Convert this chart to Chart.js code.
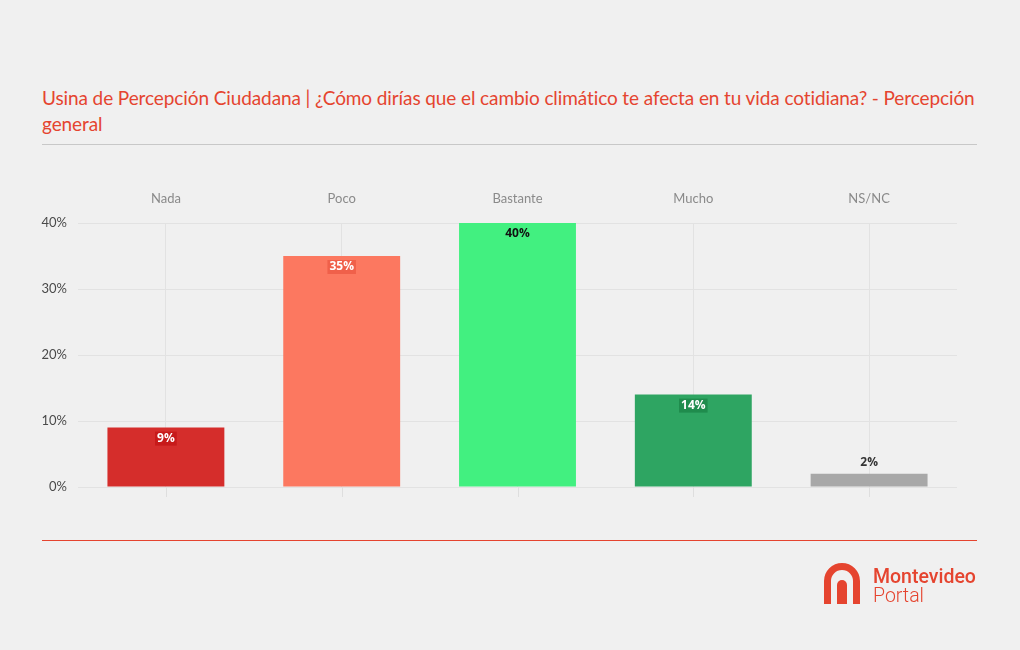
<!DOCTYPE html>
<html>
<head>
<meta charset="utf-8">
<script src="https://cdn.jsdelivr.net/npm/chart.js@4"></script>
<style>
  html, body { margin: 0; padding: 0; background: #f0f0f0; }
  #wrap { position: relative; width: 1020px; height: 650px; overflow: hidden; }
  #chart { position: absolute; left: 0; top: 0; }
  .title { position: absolute; left: 42px; top: 85px; width: 950px; font-family: Lato, sans-serif;
           font-size: 19px; letter-spacing: -0.1px; line-height: 26px; color: #e5442f; }
  .rule { position: absolute; left: 42px; width: 935px; height: 1px; }
  .logo { position: absolute; left: 821px; top: 561px; }
  .logo-text { position: absolute; left: 873px; top: 567px; font-family: Roboto, sans-serif; color: #e5442f;
               font-size: 19.5px; line-height: 19px; }
</style>
</head>
<body>
<div id="wrap">
  <div class="title">Usina de Percepción Ciudadana | ¿Cómo dirías que el cambio climático te afecta en tu vida cotidiana? - Percepción general</div>
  <div class="rule" style="top:144px;background:#c8c8c8"></div>
  <div class="rule" style="top:540px;background:#e5442f"></div>
  <canvas id="chart" width="1020" height="650"></canvas>
  <svg class="logo" width="42" height="44" viewBox="0 0 42 44">
    <path d="M3 43 V20 A18 18 0 0 1 39 20 V43 H32 V20 A11 11 0 0 0 10 20 V43 Z" fill="#e5442f"/>
    <path d="M16 43 V24 A5 5 0 0 1 26 24 V43 Z" fill="#e5442f"/>
  </svg>
  <div class="logo-text"><span style="font-weight:500">Montevideo</span><br><span style="font-weight:300">Portal</span></div>
</div>
<script>
const categories = ['Nada', 'Poco', 'Bastante', 'Mucho', 'NS/NC'];
const values = [9, 35, 40, 14, 2];
const barColors = ['#d52d2b', '#fc7860', '#42f080', '#2ea562', '#a8a8a8'];
const labelBoxColors = ['#c71a1a', '#f0604a', null, '#1f8c4d', null];
const yTicks = [0, 10, 20, 30, 40];

// value labels drawn inside the top of each bar (or above small ones)
const valueLabels = {
  id: 'valueLabels',
  afterDatasetsDraw(chart) {
    const ctx = chart.ctx;
    const meta = chart.getDatasetMeta(0);
    ctx.save();
    ctx.font = 'bold 12px "Open Sans", sans-serif';
    ctx.textAlign = 'center';
    ctx.textBaseline = 'middle';
    meta.data.forEach((bar, i) => {
      const txt = values[i] + '%';
      const outside = values[i] < 5;
      const y = outside ? bar.y - 11 : bar.y + 11;
      const w = ctx.measureText(txt).width;
      if (!outside && labelBoxColors[i]) {
        ctx.fillStyle = labelBoxColors[i];
        ctx.fillRect(bar.x - w / 2 - 2, y - 7, w + 4, 14);
      }
      ctx.fillStyle = outside ? '#333' : (labelBoxColors[i] ? '#fff' : '#111');
      ctx.fillText(txt, bar.x, y);
    });
    ctx.restore();
  }
};

// small downward extension of the vertical grid lines below the baseline
const gridTails = {
  id: 'gridTails',
  beforeDatasetsDraw(chart) {
    const ctx = chart.ctx;
    const x = chart.scales.x, y = chart.scales.y;
    const base = y.getPixelForValue(0);
    ctx.save();
    ctx.strokeStyle = '#dedede';
    ctx.lineWidth = 1;
    categories.forEach((c, i) => {
      const px = Math.round(x.getPixelForValue(i)) + 0.5;
      ctx.beginPath();
      ctx.moveTo(px, base);
      ctx.lineTo(px, base + 10);
      ctx.stroke();
    });
    ctx.restore();
  }
};

new Chart(document.getElementById('chart'), {
  type: 'bar',
  data: {
    labels: categories,
    datasets: [{
      data: values,
      backgroundColor: barColors,
      borderWidth: 0,
      barPercentage: 0.665,
      categoryPercentage: 1.0
    }]
  },
  options: {
    responsive: false,
    animation: false,
    layout: { padding: { left: 0, top: 180, right: 63, bottom: 163 } },
    scales: {
      x: {
        position: 'top',
        grid: { color: '#e2e2e2', offset: false, drawTicks: false },
        border: { display: false },
        ticks: { color: '#8a8a8a', padding: 16, font: { family: 'Lato, sans-serif', size: 13 } },
        afterFit(scale) { scale.height = 43; }
      },
      y: {
        min: 0,
        max: 40,
        afterBuildTicks(scale) { scale.ticks = yTicks.map(v => ({ value: v })); },
        grid: { color: '#e2e2e2', drawTicks: false },
        border: { display: false },
        ticks: { color: '#4a4a4a', padding: 11, font: { family: 'Lato, sans-serif', size: 13 }, callback: v => v + '%' },
        afterFit(scale) { scale.width = 78; }
      }
    },
    plugins: { legend: { display: false }, tooltip: { enabled: false } }
  },
  plugins: [gridTails, valueLabels]
});
</script>
</body>
</html>
